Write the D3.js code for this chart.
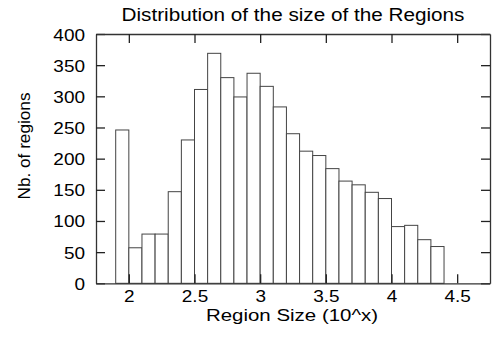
<!DOCTYPE html>
<html>
<head>
<meta charset="utf-8">
<script src="https://cdn.jsdelivr.net/npm/d3@7"></script>
<style>
  body { margin: 0; background: #fff; }
  svg text { font-family: "Liberation Sans", Arial, Helvetica, sans-serif; fill: #000; }
</style>
</head>
<body>
<script>
// bins of log10(region size), width 0.1
const binStarts = [1.9, 2.0, 2.1, 2.2, 2.3, 2.4, 2.5, 2.6, 2.7, 2.8, 2.9, 3.0, 3.1,
                   3.2, 3.3, 3.4, 3.5, 3.6, 3.7, 3.8, 3.9, 4.0, 4.1, 4.2, 4.3];
const counts = [246, 57, 79, 79, 147, 230, 311, 369, 330, 299, 337, 316, 283,
                240, 212, 205, 184, 164, 158, 146, 136, 91, 93, 70, 59];
const binWidth = 0.1;
const xTicks = [2, 2.5, 3, 3.5, 4, 4.5];
const yTicks = [0, 50, 100, 150, 200, 250, 300, 350, 400];

const width = 495, height = 337;
const plotLeft = 96, plotRight = 490, plotTop = 34, plotBottom = 283.3;
const sx = 1.15; // text looks horizontally stretched

const svg = d3.select("body").append("svg")
  .attr("width", width).attr("height", height);

const x = d3.scaleLinear().domain([1.75, 4.75]).range([plotLeft, plotRight]);
const y = d3.scaleLinear().domain([0, 400]).range([plotBottom, plotTop]);

// bars
svg.append("g")
  .selectAll("rect")
  .data(binStarts)
  .join("rect")
  .attr("x", d => x(d))
  .attr("y", (d, i) => y(counts[i]))
  .attr("width", d => x(d + binWidth) - x(d))
  .attr("height", (d, i) => y(0) - y(counts[i]))
  .attr("fill", "#fff")
  .attr("stroke", "#444")
  .attr("stroke-width", 1);

// axes, ticks pointing inward on all four sides
const tick = 9;
const styleAxis = g => {
  g.select(".domain").attr("stroke", "#333").attr("stroke-width", 1.3);
  g.selectAll(".tick line").attr("stroke", "#222").attr("stroke-width", 1.3);
};

svg.append("g").attr("transform", `translate(${plotLeft},0)`)
  .call(d3.axisLeft(y).tickValues(yTicks).tickSize(-tick).tickSizeOuter(0))
  .call(styleAxis)
  .call(g => g.selectAll(".tick text")
    .attr("x", null).attr("dy", null)
    .attr("font-size", 16.5)
    .attr("text-anchor", "end")
    .attr("transform", `translate(-11,6) scale(${sx},1)`));

svg.append("g").attr("transform", `translate(${plotRight},0)`)
  .call(d3.axisRight(y).tickValues(yTicks).tickSize(-tick).tickSizeOuter(0).tickFormat(""))
  .call(styleAxis);

svg.append("g").attr("transform", `translate(0,${plotBottom})`)
  .call(d3.axisBottom(x).tickValues(xTicks).tickSize(-tick).tickSizeOuter(0)
    .tickFormat(d3.format("~g")))
  .call(styleAxis)
  .call(g => g.selectAll(".tick text")
    .attr("y", null).attr("dy", null)
    .attr("font-size", 16.5)
    .attr("text-anchor", "middle")
    .attr("transform", `translate(0,18.7) scale(${sx},1)`));

svg.append("g").attr("transform", `translate(0,${plotTop})`)
  .call(d3.axisTop(x).tickValues(xTicks).tickSize(-tick).tickSizeOuter(0).tickFormat(""))
  .call(styleAxis);

// titles
svg.append("text")
  .attr("transform", `translate(293,20.5) scale(1.12,1)`)
  .attr("text-anchor", "middle")
  .attr("font-size", 18.5)
  .text("Distribution of the size of the Regions");

svg.append("text")
  .attr("transform", `translate(292,320.5) scale(1.24,1)`)
  .attr("text-anchor", "middle")
  .attr("font-size", 16.5)
  .text("Region Size (10^x)");

svg.append("text")
  .attr("transform", `translate(29.5,146) rotate(-90)`)
  .attr("text-anchor", "middle")
  .attr("font-size", 17.2)
  .text("Nb. of regions");
</script>
</body>
</html>
